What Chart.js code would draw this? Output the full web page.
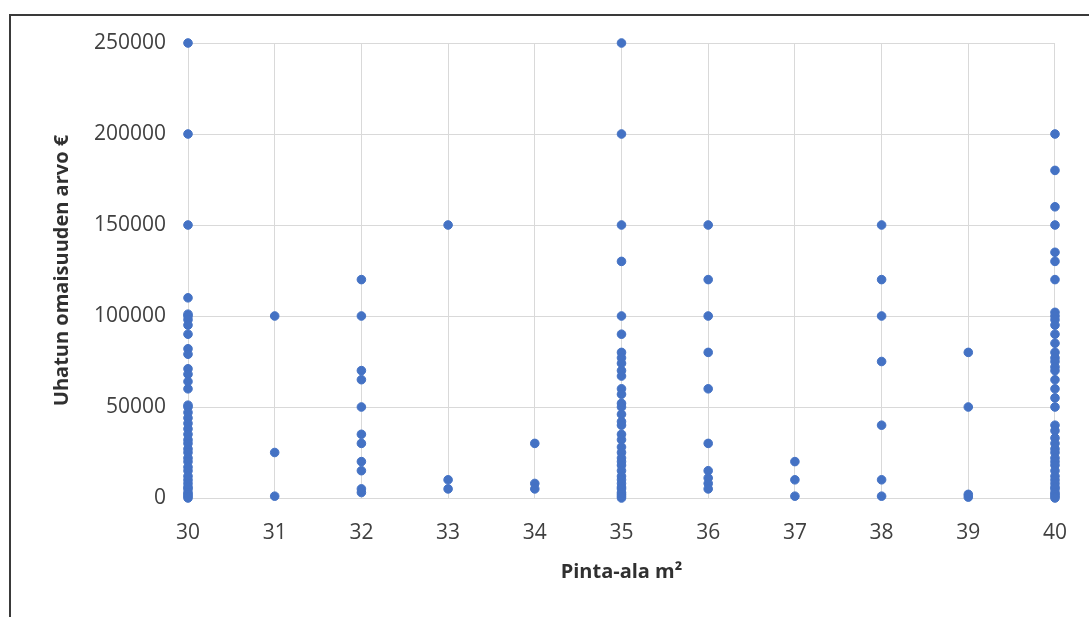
<!DOCTYPE html>
<html>
<head>
<meta charset="utf-8">
<script src="https://cdn.jsdelivr.net/npm/chart.js@4.4.0/dist/chart.umd.min.js"></script>
<style>
  html, body { margin: 0; padding: 0; background: #ffffff; overflow: hidden; }
  #frame { position: absolute; left: 9px; top: 14px; width: 1300px; height: 900px; border: 2px solid #3a3a3a; background: #ffffff; }
  #wrap { position: absolute; left: 0; top: 0; width: 1089px; height: 617px; }
</style>
</head>
<body>
<div id="frame"></div>
<div id="wrap"><canvas id="c" width="1089" height="617"></canvas></div>
<script>
// Categories (Pinta-ala m²)
const areas = [30, 31, 32, 33, 34, 35, 36, 37, 38, 39, 40];
// Values per area (Uhatun omaisuuden arvo €)
const values30 = [250000, 200000, 150000, 110000, 101000, 100000, 98000, 95000, 90000, 82000, 79000, 71000, 68000, 64000, 60000, 51000, 50000, 47000, 44000, 41000, 38000, 35000, 32000, 30000, 27000, 25000, 22000, 20000, 17000, 15000, 12000, 10000, 8000, 6000, 5000, 3000, 2000, 1000, 0];
const values31 = [100000, 25000, 1000];
const values32 = [120000, 100000, 70000, 65000, 50000, 35000, 30000, 20000, 15000, 5000, 3000];
const values33 = [150000, 10000, 5000];
const values34 = [30000, 8000, 5000];
const values35 = [250000, 200000, 150000, 130000, 100000, 90000, 80000, 77000, 74000, 70000, 67000, 60000, 57000, 52000, 50000, 46000, 42000, 40000, 35000, 32000, 28000, 25000, 22000, 20000, 18000, 15000, 12000, 10000, 8000, 6000, 5000, 3000, 2000, 1000, 0];
const values36 = [150000, 120000, 100000, 80000, 60000, 30000, 15000, 11000, 8000, 5000];
const values37 = [20000, 10000, 1000];
const values38 = [150000, 120000, 100000, 75000, 40000, 10000, 1000];
const values39 = [80000, 50000, 2000, 500];
const values40 = [200000, 180000, 160000, 150000, 135000, 130000, 120000, 102000, 100000, 98000, 95000, 90000, 85000, 80000, 77000, 75000, 72000, 70000, 65000, 60000, 55000, 50000, 40000, 37000, 33000, 30000, 27000, 25000, 22000, 20000, 18000, 15000, 12000, 10000, 8000, 6000, 5000, 3000, 2000, 1000, 0];
// Tick labels
const yTicks = [0, 50000, 100000, 150000, 200000, 250000];
const xTitle = 'Pinta-ala m²';
const yTitle = 'Uhatun omaisuuden arvo €';

const columns = [values30, values31, values32, values33, values34, values35, values36, values37, values38, values39, values40];
const points = [];
areas.forEach((a, i) => columns[i].forEach(v => points.push({ x: a, y: v })));

const tickFont = { family: '"Open Sans", "Liberation Sans", sans-serif', size: 21 };
const titleFont = { family: '"Open Sans", "Liberation Sans", sans-serif', size: 20, weight: 'bold' };
const gridColor = '#d9d9d9';

new Chart(document.getElementById('c'), {
  type: 'scatter',
  data: {
    datasets: [{
      data: points,
      backgroundColor: '#4472C4',
      borderColor: '#4472C4',
      borderWidth: 1,
      pointRadius: 4.3,
      pointHoverRadius: 4.3,
      clip: false
    }]
  },
  options: {
    responsive: false,
    animation: false,
    devicePixelRatio: 1,
    layout: { padding: { left: 0, top: 43, right: 32, bottom: 0 } },
    plugins: { legend: { display: false }, tooltip: { enabled: false } },
    scales: {
      x: {
        type: 'linear',
        min: areas[0],
        max: areas[areas.length - 1],
        afterBuildTicks: s => { s.ticks = areas.map(v => ({ value: v })); },
        afterFit: s => { s.height = 617 - 498; },
        ticks: { font: tickFont, color: '#404040', padding: 22, maxRotation: 0, callback: v => String(v) },
        grid: { color: gridColor, lineWidth: 1, drawTicks: false },
        border: { color: gridColor, width: 1 },
        title: { display: true, text: xTitle, font: titleFont, color: '#303030', padding: { top: 0, bottom: 33 } }
      },
      y: {
        type: 'linear',
        min: 0,
        max: 250000,
        afterBuildTicks: s => { s.ticks = yTicks.map(v => ({ value: v })); },
        afterFit: s => { s.width = 188; },
        ticks: { font: tickFont, color: '#404040', padding: 22, callback: v => String(v) },
        grid: { color: gridColor, lineWidth: 1, drawTicks: false },
        border: { color: gridColor, width: 1 },
        title: { display: true, text: yTitle, font: titleFont, color: '#303030', padding: { top: 50, bottom: 0 } }
      }
    }
  }
});
</script>
</body>
</html>
